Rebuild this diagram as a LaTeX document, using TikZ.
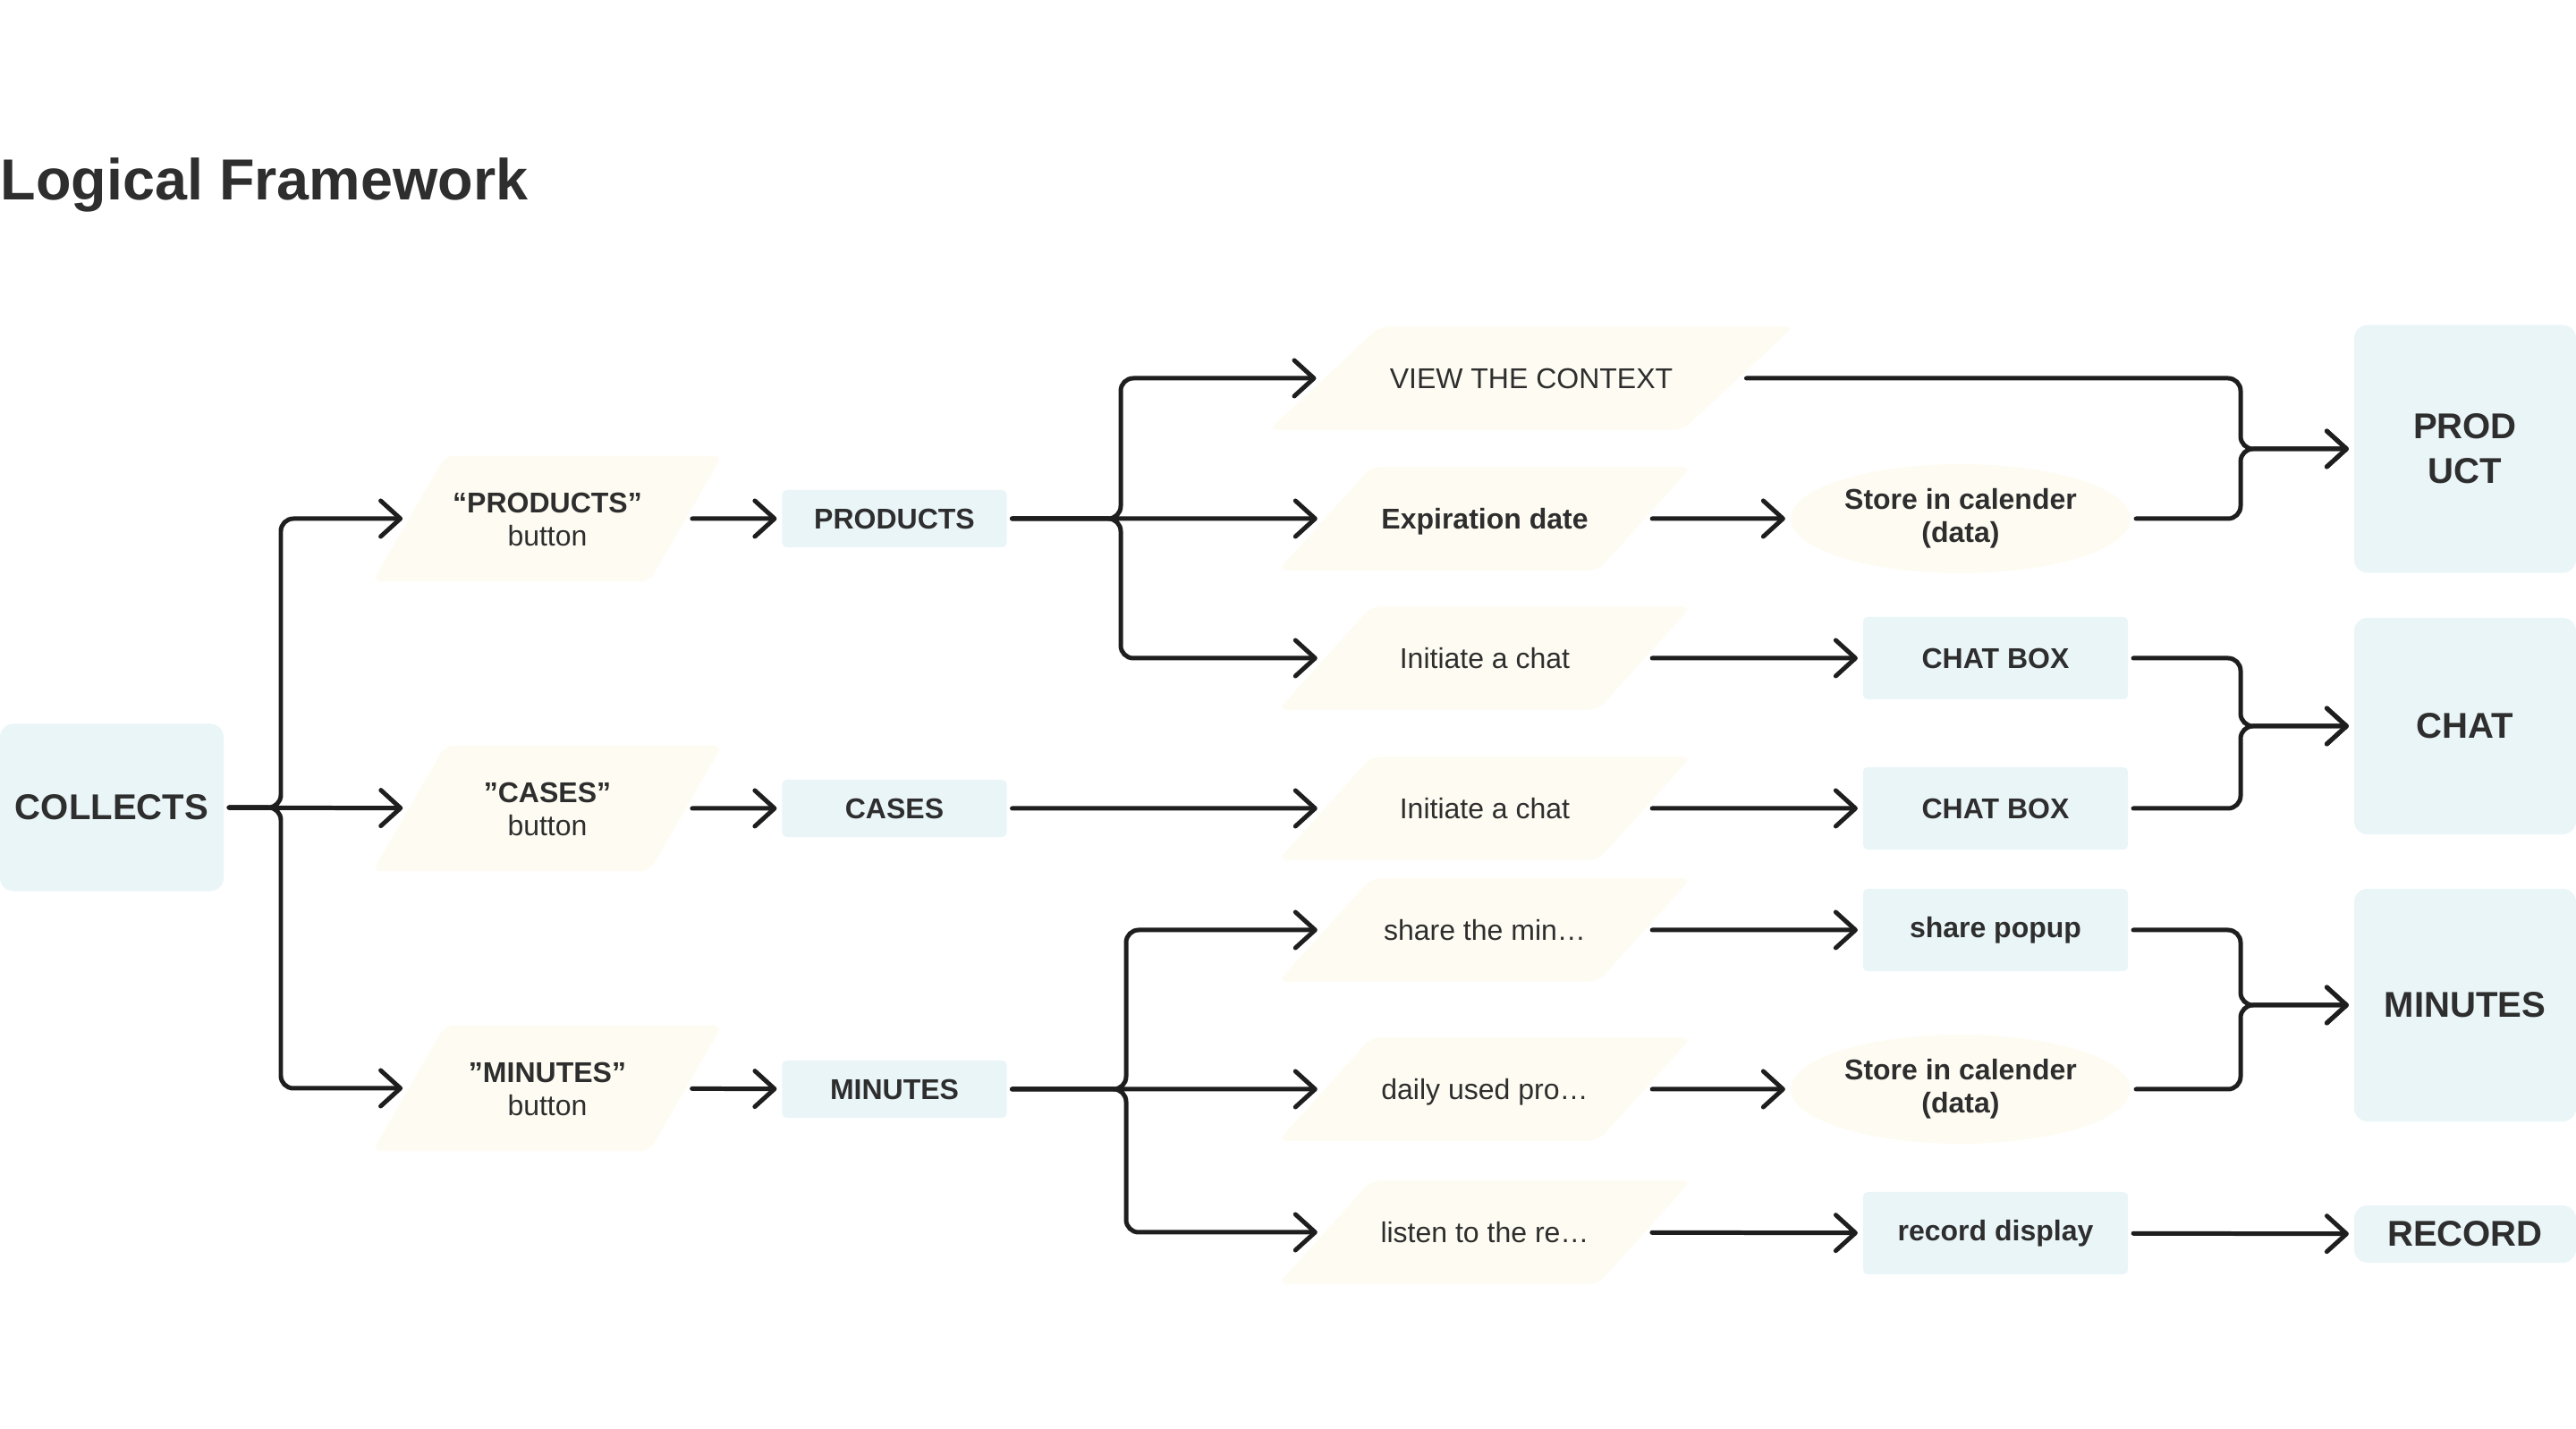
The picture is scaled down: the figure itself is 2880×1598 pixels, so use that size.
\documentclass[tikz,border=0pt]{standalone}
\usepackage{fontspec}
\setmainfont{Liberation Sans}
\usepackage{tikz}
\usetikzlibrary{arrows.meta}
\usetikzlibrary{shapes.geometric}
\definecolor{boxblue}{HTML}{EAF5F8}
\definecolor{boxcream}{HTML}{FEFCF2}
\definecolor{ink}{HTML}{2E2E2E}
\definecolor{wire}{HTML}{1E1E1E}
\tikzset{small/.style = {font = \fontsize{9.1}{10.4}\selectfont, text = ink}}
\tikzset{smallbold/.style = {font = \bfseries\fontsize{9.1}{10.4}\selectfont, text = ink}}
\tikzset{big/.style = {font = \bfseries\fontsize{11.4}{14.2}\selectfont, text = ink}}
\tikzset{bluebox/.style = {rectangle, fill = boxblue, rounded corners = 0.05cm, inner sep = 0,
                           outer sep = 0.06cm, align = center}}
\tikzset{bigbox/.style = {bluebox, big, rounded corners = 0.15cm, minimum width = 2.48cm}}
\tikzset{btnshape/.style = {trapezium, trapezium left angle = 60, trapezium right angle = 120,
                            trapezium stretches body = true, fill = boxcream, inner xsep = 0,
                            text height = 17.3pt, text depth = 0pt, inner ysep = 0.4cm,
                            outer sep = 0.06cm, rounded corners = 0.1cm, minimum width = 3.91cm,
                            align = center, small}}
\tikzset{taskshape/.style = {trapezium, trapezium left angle = 48, trapezium right angle = 132,
                             trapezium stretches body = true, fill = boxcream, inner xsep = 0,
                             text height = 7.5pt, text depth = 0.9pt, inner ysep = 0.43cm,
                             outer sep = 0.06cm, rounded corners = 0.1cm, minimum width = 4.62cm,
                             small}}
\tikzset{store/.style = {ellipse, fill = boxcream, inner sep = 0, outer sep = 0.06cm,
                         minimum width = 3.8cm, minimum height = 1.22cm, align = center, smallbold}}
\tikzset{link/.style = {draw = wire, line width = 1.42pt, line cap = round,
                        -{Straight Barb[length = 2.2mm, width = 4mm, round]}}}
\tikzset{elbow/.style = {rounded corners = 0.14cm}}

\begin{document}
\begin{tikzpicture}[x = 0.01cm, y = -0.01cm]
  \useasboundingbox (0, 0) rectangle (2880, 1598);
  \node [font = \bfseries\fontsize{18.4}{22}\selectfont, text = ink, anchor = base west, inner sep = 0] (title) at (0, 224) {Logical Framework};

  \node [bluebox, big, minimum width = 2.5cm, minimum height = 1.87cm, rounded corners = 0.15cm] (collects) at (125, 903) {COLLECTS};

  \node [btnshape] (pbtn) at (612, 580) {{\bfseries “PRODUCTS”}\\button};
  \node [btnshape] (cbtn) at (612, 904) {{\bfseries ”CASES”}\\button};
  \node [btnshape] (mbtn) at (612, 1217) {{\bfseries ”MINUTES”}\\button};

  \node [bluebox, smallbold, minimum width = 2.51cm, minimum height = 0.64cm] (pbox) at (1000, 580) {PRODUCTS};
  \node [bluebox, smallbold, minimum width = 2.51cm, minimum height = 0.64cm] (cbox) at (1000, 904) {CASES};
  \node [bluebox, smallbold, minimum width = 2.51cm, minimum height = 0.64cm] (mbox) at (1000, 1218) {MINUTES};

  \node [taskshape, minimum width = 5.87cm, trapezium left angle = 43, trapezium right angle = 137] (view) at (1712, 423) {VIEW THE CONTEXT};
  \node [taskshape, smallbold] (expdate) at (1660, 580) {Expiration date};
  \node [taskshape] (pchat) at (1660, 736) {Initiate a chat};
  \node [taskshape] (cchat) at (1660, 904) {Initiate a chat};
  \node [taskshape] (share) at (1660, 1040) {share the min…};
  \node [taskshape] (daily) at (1660, 1218) {daily used pro…};
  \node [taskshape] (listen) at (1660, 1378) {listen to the re…};

  \node [store] (pcal) at (2192, 580) {Store in calender\\(data)};
  \node [store] (mcal) at (2192, 1218) {Store in calender\\(data)};
  \node [bluebox, smallbold, minimum width = 2.96cm, minimum height = 0.92cm] (pchatbox) at (2231, 736) {CHAT BOX};
  \node [bluebox, smallbold, minimum width = 2.96cm, minimum height = 0.92cm] (cchatbox) at (2231, 904) {CHAT BOX};
  \node [bluebox, smallbold, minimum width = 2.96cm, minimum height = 0.92cm] (popup) at (2231, 1040) {share popup};
  \node [bluebox, smallbold, minimum width = 2.96cm, minimum height = 0.92cm] (recdisp) at (2231, 1379) {record display};

  \node [bigbox, minimum height = 2.77cm] (prod) at (2756, 502) {PROD\\UCT};
  \node [bigbox, minimum height = 2.42cm] (chat) at (2756, 812) {CHAT};
  \node [bigbox, minimum height = 2.6cm] (minutes) at (2756, 1124) {MINUTES};
  \node [bigbox, minimum height = 0.64cm] (record) at (2756, 1380) {RECORD};

  \coordinate (jc) at (314, 903);
  \coordinate (jp) at (1253, 580);
  \coordinate (jm) at (1259, 1218);
  \coordinate (kp) at (2505, 502);
  \coordinate (kc) at (2505, 812);
  \coordinate (km) at (2505, 1124);

  \draw [link] (collects) -- (cbtn);
  \draw [link, elbow] (collects) -- (collects -| jc) -- (jc |- pbtn) -- (pbtn);
  \draw [link, elbow] (collects) -- (collects -| jc) -- (jc |- mbtn) -- (mbtn);
  \draw [link] (pbtn) -- (pbox);
  \draw [link] (cbtn) -- (cbox);
  \draw [link] (mbtn) -- (mbox);

  \draw [link] (pbox) -- (expdate);
  \draw [link, elbow] (pbox) -- (pbox -| jp) -- (jp |- view) -- (view);
  \draw [link, elbow] (pbox) -- (pbox -| jp) -- (jp |- pchat) -- (pchat);
  \draw [link] (cbox) -- (cchat);
  \draw [link] (mbox) -- (daily);
  \draw [link, elbow] (mbox) -- (mbox -| jm) -- (jm |- share) -- (share);
  \draw [link, elbow] (mbox) -- (mbox -| jm) -- (jm |- listen) -- (listen);

  \draw [link] (expdate) -- (pcal);
  \draw [link] (pchat) -- (pchatbox);
  \draw [link] (cchat) -- (cchatbox);
  \draw [link] (share) -- (popup);
  \draw [link] (daily) -- (mcal);
  \draw [link] (listen) -- (recdisp);

  \draw [link, elbow] (view) -- (view -| kp) -- (kp) -- (prod);
  \draw [link, elbow] (pcal) -- (pcal -| kp) -- (kp) -- (prod);
  \draw [link, elbow] (pchatbox) -- (pchatbox -| kc) -- (kc) -- (chat);
  \draw [link, elbow] (cchatbox) -- (cchatbox -| kc) -- (kc) -- (chat);
  \draw [link, elbow] (popup) -- (popup -| km) -- (km) -- (minutes);
  \draw [link, elbow] (mcal) -- (mcal -| km) -- (km) -- (minutes);
  \draw [link] (recdisp) -- (record);
\end{tikzpicture}
\end{document}
